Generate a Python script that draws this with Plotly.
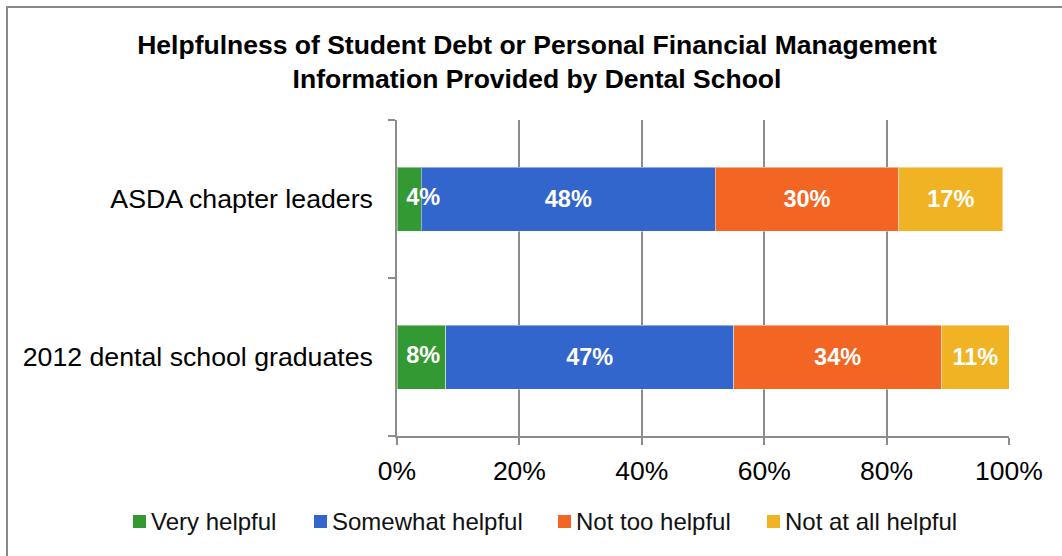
import plotly.graph_objects as go

# Survey groups (bottom-to-top order on the category axis)
groups = ["2012 dental school graduates", "ASDA chapter leaders"]

# Share of respondents per rating, in percent, matching the order of `groups`
very_helpful = [8, 4]
somewhat_helpful = [47, 48]
not_too_helpful = [34, 30]
not_at_all_helpful = [11, 17]

series = [
    ("Very helpful", very_helpful, "#339933"),
    ("Somewhat helpful", somewhat_helpful, "#3366CC"),
    ("Not too helpful", not_too_helpful, "#F26522"),
    ("Not at all helpful", not_at_all_helpful, "#F0B323"),
]

x_ticks = [0, 20, 40, 60, 80, 100]

FONT = "Liberation Sans, Arial, sans-serif"
LABEL_FONT = dict(family=FONT, size=23.5, color="white", weight="bold")

# plot-area geometry in pixels (used to place the legend row and frame)
W, H = 1062, 556
L, R, T, B = 397, 53, 120, 120
PW, PH = W - L - R, H - T - B


def px_x(x):
    return (x - L) / PW


def px_y(y):
    return (H - B - y) / PH


fig = go.Figure()
for i, (name, values, color) in enumerate(series):
    fig.add_trace(go.Bar(
        y=groups,
        x=values,
        name=name,
        orientation="h",
        marker=dict(color=color, line=dict(color="rgba(255,255,255,0.45)", width=1)),
        width=0.405,
        # the narrow first segment is labelled by a text trace drawn on top
        text=None if i == 0 else [f"{v}%" for v in values],
        textposition="inside",
        insidetextanchor="middle",
        textangle=0,
        constraintext="none",
        textfont=LABEL_FONT,
        hoverinfo="skip",
        showlegend=False,
    ))

# labels of the first segment, anchored at the bar start so they can overhang;
# the invisible marker only provides the offset from the axis
fig.add_trace(go.Scatter(
    x=[0] * len(groups),
    y=groups,
    mode="markers+text",
    marker=dict(size=13, opacity=0),
    text=[f"{v}%" for v in very_helpful],
    textposition="middle right",
    textfont=LABEL_FONT,
    hoverinfo="skip",
    showlegend=False,
    cliponaxis=False,
))

# legend row drawn as coloured squares with labels
legend_square_x = [133, 314, 558, 767]
shapes = [
    dict(type="rect", xref="paper", yref="paper",
         x0=px_x(7), x1=1.2, y0=-0.5, y1=px_y(7),
         line=dict(color="#888888", width=2), fillcolor="rgba(0,0,0,0)", layer="below"),
]
annotations = []
for (name, _, color), sx in zip(series, legend_square_x):
    shapes.append(dict(
        type="rect", xref="paper", yref="paper",
        x0=px_x(sx), x1=px_x(sx + 13), y0=px_y(528), y1=px_y(515),
        line=dict(width=0), fillcolor=color,
    ))
    annotations.append(dict(
        xref="paper", yref="paper", x=px_x(sx + 16), y=px_y(521.5),
        xanchor="left", yanchor="middle", showarrow=False,
        text=name, font=dict(family=FONT, size=24, color="#111111"),
    ))

fig.update_layout(
    barmode="stack",
    width=W,
    height=H,
    paper_bgcolor="white",
    plot_bgcolor="white",
    margin=dict(l=L, r=R, t=T, b=B, autoexpand=False),
    font=dict(family=FONT, color="black"),
    title=dict(
        text="<b>Helpfulness of Student Debt or Personal Financial Management<br>Information Provided by Dental School</b>",
        xref="container",
        x=537 / W,
        xanchor="center",
        yref="container",
        y=1 - 54 / H,
        yanchor="top",
        font=dict(family=FONT, size=26.5, color="black"),
    ),
    showlegend=False,
    shapes=shapes,
    annotations=annotations,
)

fig.update_xaxes(
    range=[0, 100],
    tickvals=x_ticks,
    ticktext=[f"{v}%" for v in x_ticks],
    showgrid=True,
    gridcolor="#8c8c8c",
    gridwidth=1.5,
    zeroline=False,
    showline=True,
    linecolor="#8c8c8c",
    linewidth=1.5,
    ticks="outside",
    ticklen=7,
    tickcolor="#8c8c8c",
    tickwidth=1.5,
    ticklabelstandoff=3,
    tickfont=dict(family=FONT, size=26.5, color="black"),
    automargin=False,
    fixedrange=True,
)

fig.update_yaxes(
    categoryorder="array",
    categoryarray=groups,
    range=[-0.5, 1.5],
    showline=True,
    linecolor="#8c8c8c",
    linewidth=1.5,
    ticks="outside",
    tickson="boundaries",
    ticklen=7,
    tickcolor="#8c8c8c",
    tickwidth=1.5,
    ticklabelstandoff=17,
    showgrid=False,
    tickfont=dict(family=FONT, size=26.7, color="black"),
    automargin=False,
    fixedrange=True,
)

fig.write_html("out.html")
